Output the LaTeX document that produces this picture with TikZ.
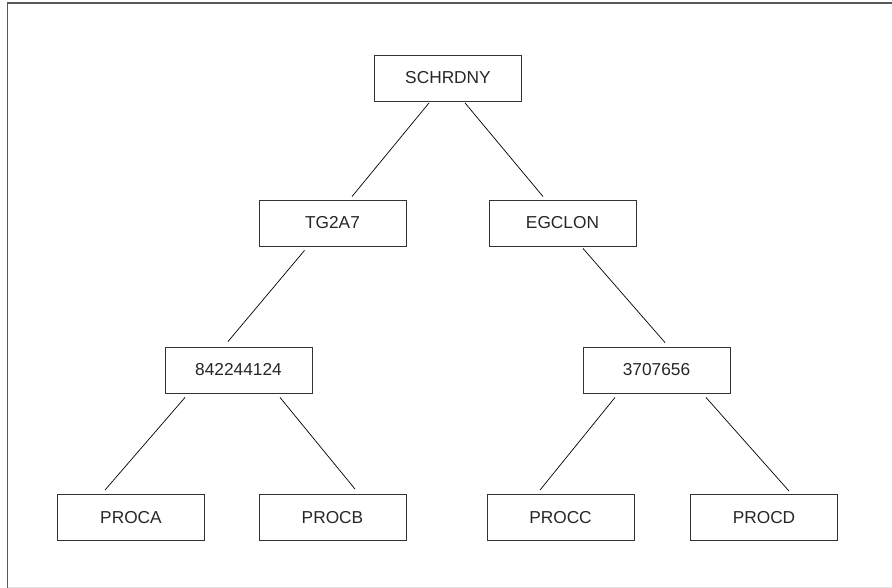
\documentclass[tikz,border=0pt]{standalone}
\usepackage{fontspec}
\setmainfont{Liberation Sans}
\begin{document}
\begin{tikzpicture}[x=1pt,y=-1pt,
  box/.style={draw=black!80,line width=0.9pt,minimum width=147pt,minimum height=46pt,inner sep=0pt,font=\fontsize{17.3}{19}\selectfont,text=black!85},
  link/.style={draw=black,line width=0.7pt}]
\useasboundingbox (0,0) rectangle (892,588);
\draw[black!65,line width=1.6pt] (7.5,588) -- (7.5,3) -- (892,3);
\draw[black!12,line width=0.8pt] (7.5,587) -- (892,587);
\node[box] (sch) at (448,78) {SCHRDNY};
\node[box] (tg) at (332.5,223) {TG2A7};
\node[box] (eg) at (562.5,223) {EGCLON};
\node[box] (n84) at (238.5,370) {842244124};
\node[box] (n37) at (656.5,370) {3707656};
\node[box] (pa) at (131,517.5) {PROCA};
\node[box] (pb) at (332.5,517.5) {PROCB};
\node[box] (pc) at (560.5,517.5) {PROCC};
\node[box] (pd) at (764,517.5) {PROCD};
\draw[link] ([xshift=-19pt,yshift=-1.5pt]sch.south) -- ([xshift=19.5pt,yshift=3pt]tg.north);
\draw[link] ([xshift=17pt,yshift=-1.5pt]sch.south) -- ([xshift=-19.5pt,yshift=3pt]eg.north);
\draw[link] ([xshift=-28pt,yshift=-4pt]tg.south) -- ([xshift=-10.5pt,yshift=5pt]n84.north);
\draw[link] ([xshift=20.5pt,yshift=-2pt]eg.south) -- ([xshift=8.5pt,yshift=4pt]n37.north);
\draw[link] ([xshift=-53.5pt,yshift=-4pt]n84.south) -- ([xshift=-26pt,yshift=4pt]pa.north);
\draw[link] ([xshift=41.5pt,yshift=-4pt]n84.south) -- ([xshift=22.5pt,yshift=5pt]pb.north);
\draw[link] ([xshift=-41.5pt,yshift=-4pt]n37.south) -- ([xshift=-20.5pt,yshift=4pt]pc.north);
\draw[link] ([xshift=49.5pt,yshift=-4pt]n37.south) -- ([xshift=25pt,yshift=3pt]pd.north);
\end{tikzpicture}
\end{document}
